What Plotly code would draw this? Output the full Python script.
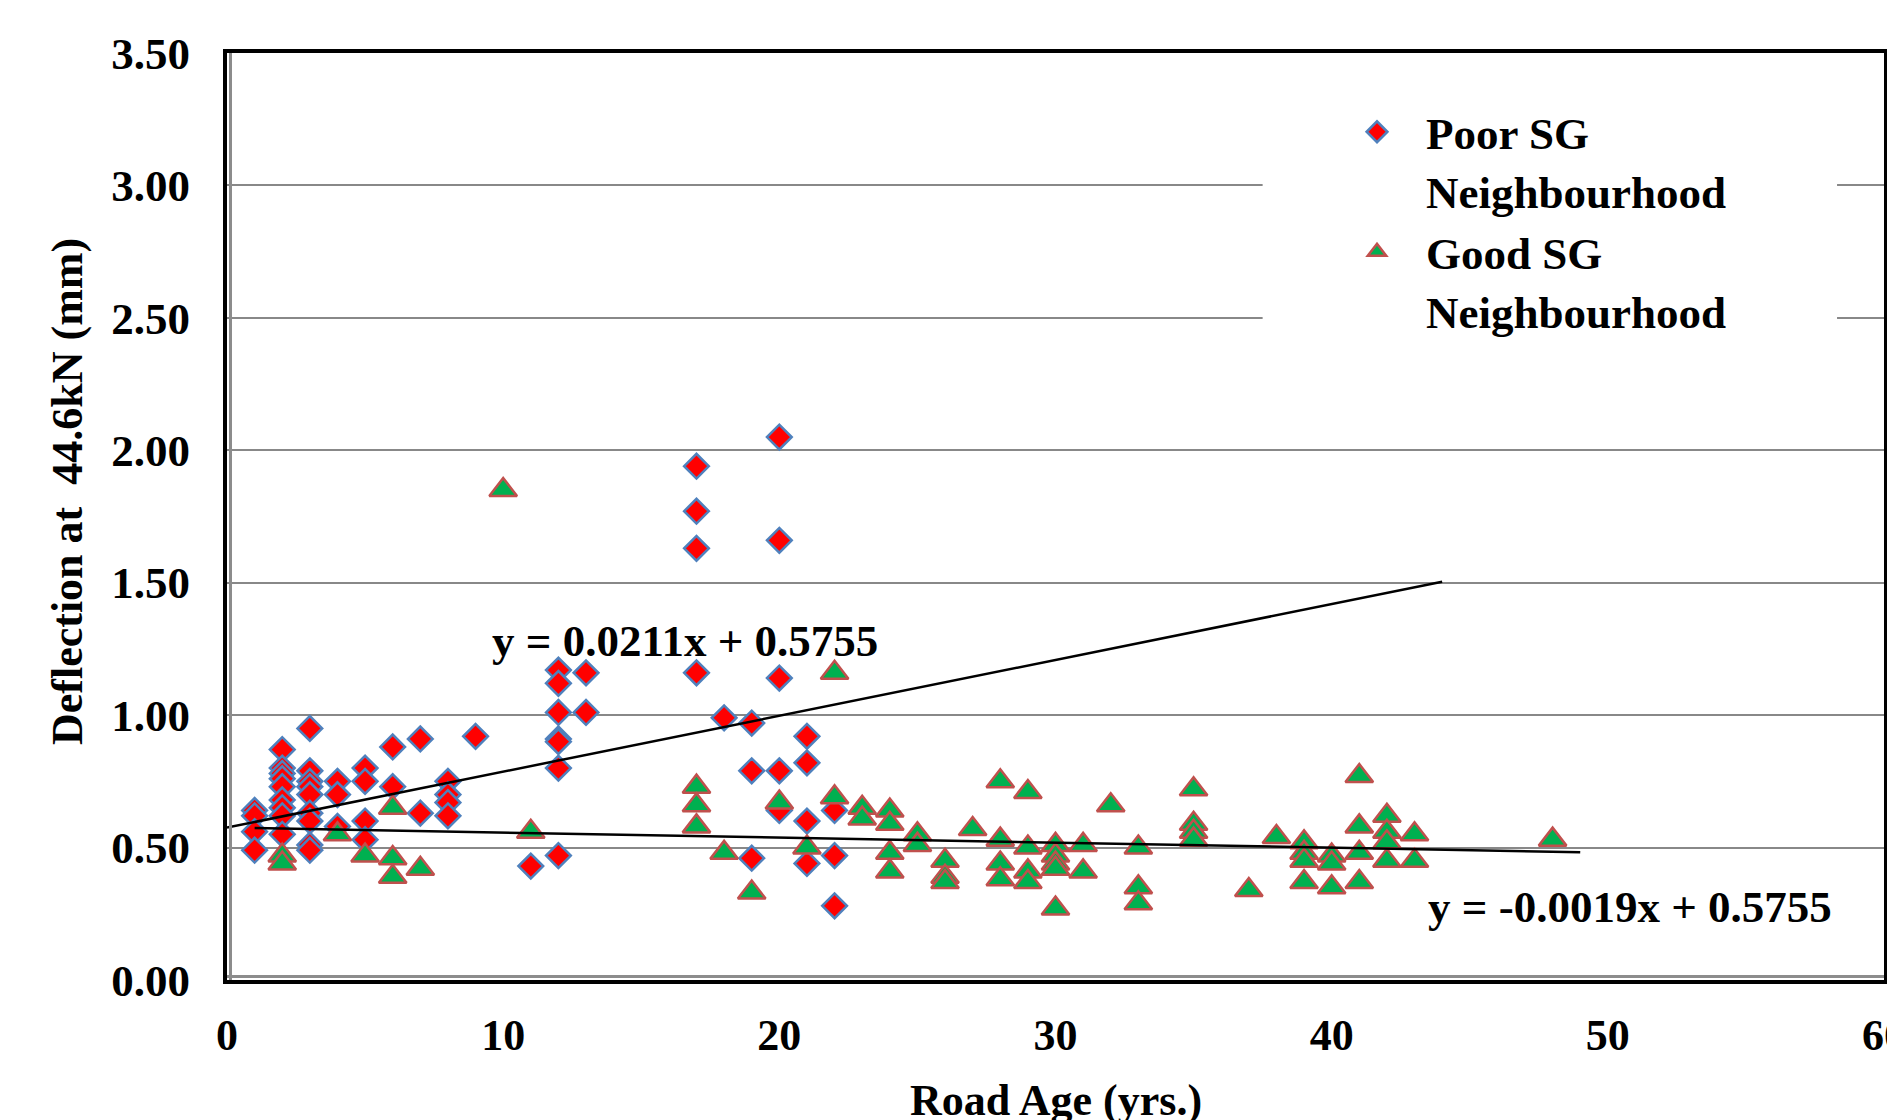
import plotly.graph_objects as go

# ---------------- data ----------------
poor_x = [1, 1, 1, 1,
          2, 2, 2, 2, 2, 2, 2, 2, 2,
          3, 3, 3, 3, 3, 3, 3, 3, 3,
          4, 4, 4,
          5, 5, 5, 5,
          6, 6,
          7, 7,
          8, 8, 8, 8,
          9,
          11,
          12, 12, 12, 12, 12, 12, 12,
          13, 13,
          17, 17, 17, 17,
          18,
          19, 19, 19,
          20, 20, 20, 20, 20,
          21, 21, 21, 21,
          22, 22, 22]
poor_y = [0.64, 0.62, 0.56, 0.49,
          0.87, 0.80, 0.78, 0.76, 0.73, 0.68, 0.65, 0.62, 0.55,
          0.95, 0.79, 0.75, 0.73, 0.70, 0.63, 0.60, 0.51, 0.49,
          0.75, 0.70, 0.58,
          0.80, 0.75, 0.60, 0.53,
          0.88, 0.73,
          0.91, 0.63,
          0.75, 0.70, 0.67, 0.62,
          0.92,
          0.43,
          1.17, 1.12, 1.01, 0.91, 0.90, 0.80, 0.47,
          1.16, 1.01,
          1.94, 1.77, 1.63, 1.16,
          0.99,
          0.97, 0.79, 0.46,
          2.05, 1.66, 1.14, 0.79, 0.64,
          0.92, 0.82, 0.60, 0.44,
          0.64, 0.47, 0.28]

good_x = [2, 2,
          4,
          5,
          6, 6, 6,
          7,
          10,
          11,
          17, 17, 17,
          18,
          19,
          20,
          21,
          22, 22,
          23, 23,
          24, 24, 24, 24,
          25, 25,
          26, 26, 26,
          27,
          28, 28, 28, 28,
          29, 29, 29, 29,
          30, 30, 30, 30, 30,
          31, 31,
          32,
          33, 33, 33,
          35, 35, 35, 35,
          37,
          38,
          39, 39, 39, 39,
          40, 40, 40,
          41, 41, 41, 41,
          42, 42, 42, 42,
          43, 43,
          48]
good_y = [0.47, 0.44,
          0.55,
          0.47,
          0.65, 0.46, 0.39,
          0.42,
          1.85,
          0.56,
          0.73, 0.66, 0.58,
          0.48,
          0.33,
          0.67,
          0.50,
          1.16, 0.69,
          0.65, 0.61,
          0.64, 0.59, 0.48, 0.41,
          0.55, 0.51,
          0.45, 0.39, 0.37,
          0.57,
          0.75, 0.53, 0.44, 0.38,
          0.71, 0.50, 0.41, 0.37,
          0.51, 0.47, 0.44, 0.42, 0.27,
          0.51, 0.41,
          0.66,
          0.50, 0.35, 0.29,
          0.72, 0.59, 0.56, 0.53,
          0.34,
          0.54,
          0.52, 0.48, 0.45, 0.37,
          0.47, 0.44, 0.35,
          0.77, 0.58, 0.48, 0.37,
          0.62, 0.56, 0.52, 0.45,
          0.55, 0.45,
          0.53]

# trendlines (from the printed equations)
poor_fit = {"slope": 0.0211, "intercept": 0.5755, "x": [0, 44]}
good_fit = {"slope": -0.0019, "intercept": 0.5755, "x": [1, 49]}

x_ticks = [0, 10, 20, 30, 40, 50, 60]
y_ticks = [0.0, 0.5, 1.0, 1.5, 2.0, 2.5, 3.0, 3.5]

series_names = ["Poor SG<br>Neighbourhood", "Good SG<br>Neighbourhood"]
eq_labels = ["y = 0.0211x + 0.5755", "y = -0.0019x + 0.5755"]

# ---------------- figure ----------------
FONT = "Liberation Serif, Times New Roman, serif"
OFF = 8  # page body margin
W, H = 1895, 1120
# plot area in page pixels: left 227, right 1884, top 53, bottom 980
L, R, T, B = 227 - OFF, W - (1884 - OFF), 53 - OFF, H - (980 - OFF)
PW, PH = W - L - R, H - T - B


def px_to_paper_x(px):
    """page pixel -> paper fraction"""
    return (px - OFF - L) / PW


def px_to_paper_y(py):
    return (H - B - (py - OFF)) / PH


fig = go.Figure()

fig.add_trace(go.Scatter(
    x=poor_x, y=poor_y, mode="markers", name=series_names[0],
    marker=dict(symbol="diamond", size=19, color="#FF0000",
                line=dict(color="#4F81BD", width=2.5)),
))
fig.add_trace(go.Scatter(
    x=good_x, y=good_y, mode="markers", name=series_names[1],
    marker=dict(symbol="triangle-up", size=24, color="#00B050",
                line=dict(color="#C0504D", width=2.5)),
))

for fit in (poor_fit, good_fit):
    fy = [fit["slope"] * v + fit["intercept"] for v in fit["x"]]
    fig.add_trace(go.Scatter(
        x=fit["x"], y=fy, mode="lines", showlegend=False,
        line=dict(color="black", width=2.5), hoverinfo="skip",
    ))

fig.update_layout(
    width=W, height=H,
    margin=dict(l=L, r=R, t=T, b=B, pad=0, autoexpand=False),
    paper_bgcolor="white", plot_bgcolor="white",
    font=dict(family=FONT, size=44, color="black", weight="bold"),
    showlegend=True,
    legend=dict(
        x=px_to_paper_x(1328), y=px_to_paper_y(96),
        xanchor="left", yanchor="top",
        bgcolor="rgba(0,0,0,0)", borderwidth=0,
        font=dict(family=FONT, size=45, color="black", weight="bold"),
        itemwidth=88, valign="top", tracegroupgap=0,
    ),
    xaxis=dict(
        range=[0, 60], tickvals=x_ticks, ticktext=[str(v) for v in x_ticks],
        showgrid=False, zeroline=False, automargin=False,
        showline=True, linecolor="black", linewidth=4, mirror=True,
        ticks="", ticklabelstandoff=13, ticklabeloverflow="allow",
        tickfont=dict(family=FONT, size=44, color="black", weight="bold"),
    ),
    yaxis=dict(
        range=[0, 3.5], tickvals=y_ticks, ticktext=[f"{v:.2f}" for v in y_ticks],
        showgrid=True, gridcolor="#888888", gridwidth=2, zeroline=False,
        automargin=False,
        showline=True, linecolor="black", linewidth=4, mirror=True,
        ticks="", ticklabelstandoff=24, ticklabeloverflow="allow",
        tickfont=dict(family=FONT, size=45, color="black", weight="bold"),
    ),
    shapes=[
        # white legend panel hiding grid lines (between grid and traces)
        dict(type="rect", xref="x", yref="y",
             x0=37.5, x1=58.3, y0=2.3, y1=3.45,
             fillcolor="white", line=dict(width=0), layer="between"),
        # gray inner shadow of left axis
        dict(type="line", xref="paper", yref="paper",
             xsizemode="pixel", xanchor=0, x0=3.5, x1=3.5, y0=0, y1=1,
             line=dict(color="#8c8c8c", width=3), layer="above"),
        # gray inner shadow of bottom axis
        dict(type="line", xref="paper", yref="paper",
             ysizemode="pixel", yanchor=0, y0=3.5, y1=3.5, x0=0, x1=1,
             line=dict(color="#8c8c8c", width=3), layer="above"),
    ],
    annotations=[
        dict(text="Deflection at  44.6kN (mm)", xref="paper", yref="paper",
             x=px_to_paper_x(68), y=px_to_paper_y(492), textangle=-90,
             showarrow=False, xanchor="center", yanchor="middle",
             font=dict(family=FONT, size=44, color="black", weight="bold")),
        dict(text="Road Age (yrs.)", xref="paper", yref="paper",
             x=px_to_paper_x(1056), y=px_to_paper_y(1100),
             showarrow=False, xanchor="center", yanchor="middle",
             font=dict(family=FONT, size=44, color="black", weight="bold")),
        dict(text=eq_labels[0], xref="x", yref="y", x=9.52, y=1.28,
             showarrow=False, xanchor="left", yanchor="middle",
             font=dict(family=FONT, size=45, color="black", weight="bold")),
        dict(text=eq_labels[1], xref="x", yref="y", x=43.43, y=0.275,
             showarrow=False, xanchor="left", yanchor="middle",
             font=dict(family=FONT, size=45, color="black", weight="bold")),
    ],
)

fig.write_html("out.html")
